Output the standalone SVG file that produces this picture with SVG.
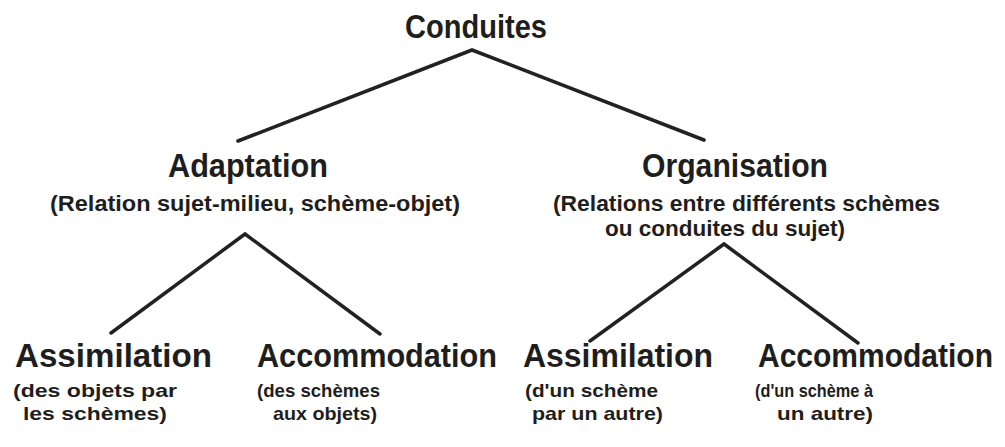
<svg xmlns="http://www.w3.org/2000/svg" width="1005" height="447" viewBox="0 0 1005 447">
<style>
.t{font-family:"Liberation Sans",Arial,sans-serif;font-weight:bold;fill:#1e1e1e}
.h{font-size:33px}
.h2{font-size:30px}
.s{font-size:22px}
.b{font-size:19px}
.c{fill:none;stroke:#222;stroke-width:3.5;stroke-linecap:round;stroke-linejoin:miter}
</style>
<rect width="1005" height="447" fill="#fff"/>
<g id="connectors">
<polyline class="c" points="238,141 472,50 704,140"/>
<polyline class="c" points="111,333 245,234 380,334"/>
<polyline class="c" points="590,341 724,244 858,343"/>
</g>
<g id="conduites"><text class="t h" x="405" y="38" textLength="142" lengthAdjust="spacingAndGlyphs">Conduites</text></g>
<g id="adaptation">
<text class="t h" x="168" y="177" textLength="160" lengthAdjust="spacingAndGlyphs">Adaptation</text>
<text class="t s" x="50" y="211" textLength="410" lengthAdjust="spacingAndGlyphs">(Relation sujet-milieu, schème-objet)</text>
</g>
<g id="organisation">
<text class="t h" x="642" y="177" textLength="186" lengthAdjust="spacingAndGlyphs">Organisation</text>
<text class="t s" x="553" y="211" textLength="387" lengthAdjust="spacingAndGlyphs">(Relations entre différents schèmes</text>
<text class="t s" x="605" y="236" textLength="240" lengthAdjust="spacingAndGlyphs">ou conduites du sujet)</text>
</g>
<g id="assimilation1">
<text class="t h" x="15" y="367" textLength="197" lengthAdjust="spacingAndGlyphs">Assimilation</text>
<text class="t b" x="13" y="397" textLength="164" lengthAdjust="spacingAndGlyphs">(des objets par</text>
<text class="t b" x="23" y="420" textLength="144" lengthAdjust="spacingAndGlyphs">les schèmes)</text>
</g>
<g id="accommodation1">
<text class="t h" x="257" y="367" textLength="240" lengthAdjust="spacingAndGlyphs">Accommodation</text>
<text class="t b" x="257" y="397" textLength="123" lengthAdjust="spacingAndGlyphs">(des schèmes</text>
<text class="t b" x="273" y="420" textLength="104" lengthAdjust="spacingAndGlyphs">aux objets)</text>
</g>
<g id="assimilation2">
<text class="t h" x="523" y="367" textLength="190" lengthAdjust="spacingAndGlyphs">Assimilation</text>
<text class="t b" x="525" y="397" textLength="133" lengthAdjust="spacingAndGlyphs">(d'un schème</text>
<text class="t b" x="532" y="420" textLength="131" lengthAdjust="spacingAndGlyphs">par un autre)</text>
</g>
<g id="accommodation2">
<text class="t h2" transform="translate(758,367) scale(1,1.1)" x="0" y="0" textLength="235" lengthAdjust="spacingAndGlyphs">Accommodation</text>
<text class="t b" x="755" y="397" textLength="118" lengthAdjust="spacingAndGlyphs">(d'un schème à</text>
<text class="t b" x="777" y="420" textLength="96" lengthAdjust="spacingAndGlyphs">un autre)</text>
</g>
</svg>
